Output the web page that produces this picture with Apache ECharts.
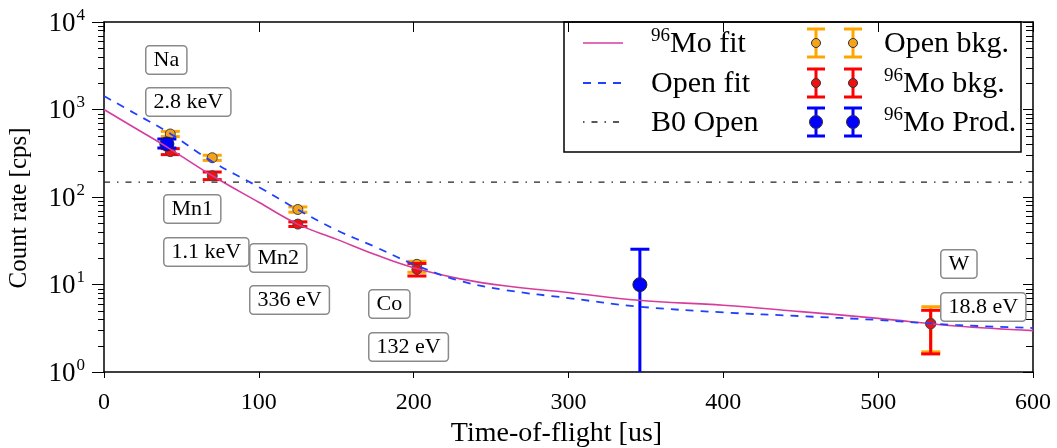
<!DOCTYPE html>
<html><head><meta charset="utf-8">
<script src="https://cdn.jsdelivr.net/npm/echarts@6/dist/echarts.min.js"></script>
<style>html,body{margin:0;padding:0;background:#fff}#c{width:1057px;height:448px}</style>
</head><body><div id="c"></div>
<script>
// ---- data ----
const fitX      = [0, 20, 42, 70, 100, 125, 150, 175, 200, 230, 260, 300, 345, 400, 450, 500, 550, 600];
const moFitY    = [1000, 615, 360, 175, 87, 49, 33, 22, 15.5, 11.6, 9.6, 8.1, 6.6, 5.8, 4.9, 4.1, 3.35, 2.97];
const openFitY  = [1425, 900, 540, 253, 130, 72, 42, 27, 17, 11, 8.6, 7.0, 5.6, 4.8, 4.35, 3.93, 3.45, 3.18];
const b0OpenY   = 148;

const openBkgX  = [42.8, 69.9, 125.2, 202.1, 534];
const openBkgY  = [525, 281, 72, 17.0, 3.6];
const openBkgLo = [490, 262, 67, 13.8, 1.7];
const openBkgHi = [562, 300, 77, 18.4, 5.57];

const moBkgX    = [42.8, 69.9, 125.2, 202.1, 533.9];
const moBkgY    = [330, 175, 49, 14.9, 3.54];
const moBkgLo   = [305, 158, 46, 12.5, 1.61];
const moBkgHi   = [357, 193, 52, 17.4, 5.07];

const moProdX   = [40.6, 346.1];
const moProdY   = [404, 9.96];
const moProdLo  = [363, 0.3];
const moProdHi  = [460, 25.3];

const yMinorTicks = [2,3,4,5,6,7,8,9,20,30,40,50,60,70,80,90,200,300,400,500,600,700,800,900,2000,3000,4000,5000,6000,7000,8000,9000];

const annotations = [
  ['Na', 145, 45], ['2.8 keV', 145, 87],
  ['Mn1', 163, 194], ['1.1 keV', 163, 237],
  ['Mn2', 249, 243], ['336 eV', 249, 285],
  ['Co', 368, 289], ['132 eV', 368, 332],
  ['W', 940, 249], ['18.8 eV', 940, 292]
];

// ---- chart ----
const FONT = "'Liberation Serif', 'Times New Roman', serif";
const chart = echarts.init(document.getElementById('c'), null, {renderer: 'canvas'});

const zip = (a, b) => a.map((v, i) => [v, b[i]]);
const errData = (x, lo, hi) => x.map((v, i) => [v, lo[i], hi[i]]);

function errorBar(color, capW, lw) {
  return function (params, api) {
    const x = api.value(0);
    const lo = api.coord([x, api.value(1)]);
    const hi = api.coord([x, api.value(2)]);
    const st = {stroke: color, lineWidth: lw};
    return {
      type: 'group',
      children: [
        {type: 'line', shape: {x1: lo[0], y1: lo[1], x2: hi[0], y2: hi[1]}, style: st},
        {type: 'line', shape: {x1: lo[0] - capW / 2, y1: lo[1], x2: lo[0] + capW / 2, y2: lo[1]}, style: st},
        {type: 'line', shape: {x1: hi[0] - capW / 2, y1: hi[1], x2: hi[0] + capW / 2, y2: hi[1]}, style: st}
      ]
    };
  };
}

function minorTicks(params, api) {
  const cs = params.coordSys;
  const p = api.coord([0, api.value(0)]);
  const y = Math.round(p[1]) + 0.5;
  const st = {stroke: '#000', lineWidth: 1};
  return {
    type: 'group',
    children: [
      {type: 'line', shape: {x1: cs.x - 6, y1: y, x2: cs.x, y2: y}, style: st},
      {type: 'line', shape: {x1: cs.x + cs.width - 7, y1: y, x2: cs.x + cs.width, y2: y}, style: st}
    ]
  };
}

const option = {
  animation: false,
  backgroundColor: '#fff',
  grid: {left: 104, right: 24, top: 22, bottom: 76, containLabel: false, outerBoundsMode: 'none'},
  xAxis: [
    {
      type: 'value', min: 0, max: 600, interval: 100, position: 'bottom',
      axisLine: {show: true, onZero: false, lineStyle: {color: '#000', width: 1.5}},
      axisTick: {show: true, inside: false, length: 6, lineStyle: {color: '#000', width: 1}},
      axisLabel: {color: '#000', fontFamily: FONT, fontSize: 24, margin: 19},
      splitLine: {show: false},
      name: 'Time-of-flight [us]', nameLocation: 'middle', nameGap: 41,
      nameTextStyle: {color: '#000', fontFamily: FONT, fontSize: 28, padding: [0, 24, 0, 0]}
    },
    {
      type: 'value', min: 0, max: 600, interval: 100, position: 'top',
      axisLine: {show: true, onZero: false, lineStyle: {color: '#000', width: 1.5}},
      axisTick: {show: true, inside: true, length: 10, lineStyle: {color: '#000', width: 1}},
      axisLabel: {show: false}, splitLine: {show: false}
    }
  ],
  yAxis: [
    {
      type: 'log', logBase: 10, min: 1, max: 10000, position: 'left',
      axisLine: {show: true, onZero: false, lineStyle: {color: '#000', width: 1.5}},
      axisTick: {show: true, inside: false, length: 12, lineStyle: {color: '#000', width: 1}},
      minorTick: {show: false},
      axisLabel: {
        color: '#000', fontFamily: FONT, margin: 19,
        formatter: v => '{b|10}{s|' + Math.round(Math.log10(v)) + '}',
        rich: {
          b: {fontFamily: FONT, fontSize: 27, color: '#000', verticalAlign: 'bottom', lineHeight: 30},
          s: {fontFamily: FONT, fontSize: 17, color: '#000', verticalAlign: 'top', lineHeight: 30, padding: [0, 0, 0, 1]}
        }
      },
      splitLine: {show: false},
      name: 'Count rate [cps]', nameLocation: 'middle', nameGap: 72, nameRotate: 90,
      nameTextStyle: {color: '#000', fontFamily: FONT, fontSize: 25, padding: [0, 22, 0, 0]}
    },
    {
      type: 'log', logBase: 10, min: 1, max: 10000, position: 'right',
      axisLine: {show: true, onZero: false, lineStyle: {color: '#000', width: 1.5}},
      axisTick: {show: true, inside: true, length: 10, lineStyle: {color: '#000', width: 1}},
      axisLabel: {show: false}, splitLine: {show: false}, minorTick: {show: false}
    }
  ],
  series: [
    {
      type: 'custom', name: 'minorTicks', renderItem: minorTicks, silent: true,
      data: yMinorTicks.map(v => [v]), encode: {y: 0}, clip: false, z: 1
    },
    {
      type: 'custom', name: 'Open bkg. err', renderItem: errorBar('#FFA500', 19, 3),
      data: errData(openBkgX, openBkgLo, openBkgHi), encode: {x: 0, y: [1, 2]}, clip: true, z: 2
    },
    {
      type: 'scatter', name: 'Open bkg.', data: zip(openBkgX, openBkgY), symbol: 'circle', symbolSize: 10,
      itemStyle: {color: '#F5A21B', borderColor: '#444', borderWidth: 1, opacity: 1}, z: 3
    },
    {
      type: 'custom', name: 'Mo bkg. err', renderItem: errorBar('#FF0000', 19, 3),
      data: errData(moBkgX, moBkgLo, moBkgHi), encode: {x: 0, y: [1, 2]}, clip: true, z: 4
    },
    {
      type: 'scatter', name: 'Mo bkg.', data: zip(moBkgX, moBkgY), symbol: 'circle', symbolSize: 10,
      itemStyle: {color: '#EE1111', borderColor: '#444', borderWidth: 1, opacity: 1}, z: 5
    },
    {
      type: 'custom', name: 'Mo Prod. err', renderItem: errorBar('#0000FF', 19, 3),
      data: errData(moProdX, moProdLo, moProdHi), encode: {x: 0, y: [1, 2]}, clip: true, z: 6
    },
    {
      type: 'scatter', name: 'Mo Prod.', data: zip(moProdX, moProdY), symbol: 'circle', symbolSize: 14,
      itemStyle: {color: '#0000FF', borderColor: '#222', borderWidth: 1, opacity: 1}, z: 7
    },
    {
      type: 'line', name: 'Mo fit', data: zip(fitX, moFitY), smooth: 0.4, showSymbol: false,
      lineStyle: {color: '#D63C9E', width: 1.6}, z: 8, silent: true
    },
    {
      type: 'line', name: 'Open fit', data: zip(fitX, openFitY), smooth: 0.4, showSymbol: false,
      lineStyle: {color: '#2040FF', width: 1.8, type: [8, 7]}, z: 8, silent: true
    },
    {
      type: 'line', name: 'B0 Open', data: [[0, b0OpenY], [600, b0OpenY]], showSymbol: false,
      lineStyle: {color: '#222', width: 1.3, type: [6, 7, 1.5, 7]}, z: 8, silent: true
    }
  ],
  graphic: []
};

// annotation boxes
annotations.forEach(a => {
  option.graphic.push({
    type: 'text', left: a[1], top: a[2], z: 20,
    style: {
      text: a[0], font: '22px ' + FONT, fill: '#000',
      backgroundColor: '#fff', borderColor: '#8a8a8a', borderWidth: 1.5, borderRadius: 3,
      padding: [2, 7, 1, 7], lineHeight: 24
    }
  });
});

// legend
const LX = 564, LY = 22, LW = 457, LH = 130;
const rows = [43, 83, 122];
const leg = [];
leg.push({type: 'rect', shape: {x: LX, y: LY, width: LW, height: LH}, style: {fill: '#fff', stroke: '#000', lineWidth: 1.5}});
leg.push({type: 'line', shape: {x1: 583, y1: rows[0], x2: 623, y2: rows[0]}, style: {stroke: '#D63C9E', lineWidth: 1.6}});
leg.push({type: 'line', shape: {x1: 583, y1: rows[1], x2: 623, y2: rows[1]}, style: {stroke: '#2040FF', lineWidth: 1.8, lineDash: [8, 7]}});
leg.push({type: 'line', shape: {x1: 583, y1: rows[2], x2: 623, y2: rows[2]}, style: {stroke: '#222', lineWidth: 1.3, lineDash: [1.5, 7, 6, 7]}});
const richLeg = {
  s: {fontFamily: FONT, fontSize: 19, color: '#000', verticalAlign: 'top', lineHeight: 33},
  n: {fontFamily: FONT, fontSize: 30, color: '#000', verticalAlign: 'bottom', lineHeight: 33}
};
function legText(x, y, txt) {
  return {type: 'text', x: x, y: y, style: {text: txt, rich: richLeg, verticalAlign: 'middle', align: 'left'}};
}
leg.push(legText(651, rows[0], '{s|96}{n|Mo fit}'));
leg.push(legText(651, rows[1], '{n|Open fit}'));
leg.push(legText(651, rows[2], '{n|B0 Open}'));
leg.push(legText(884, rows[0], '{n|Open bkg.}'));
leg.push(legText(884, rows[1], '{s|96}{n|Mo bkg.}'));
leg.push(legText(884, rows[2], '{s|96}{n|Mo Prod.}'));
const legSym = [['#FFA500', '#F5A21B', 9], ['#FF0000', '#EE1111', 9], ['#0000FF', '#0000FF', 13]];
legSym.forEach((s, i) => {
  [816, 853].forEach(cx => {
    const cy = rows[i];
    const st = {stroke: s[0], lineWidth: 3};
    leg.push({type: 'line', shape: {x1: cx, y1: cy - 14, x2: cx, y2: cy + 14}, style: st});
    leg.push({type: 'line', shape: {x1: cx - 9, y1: cy - 14, x2: cx + 9, y2: cy - 14}, style: st});
    leg.push({type: 'line', shape: {x1: cx - 9, y1: cy + 14, x2: cx + 9, y2: cy + 14}, style: st});
    leg.push({type: 'circle', shape: {cx: cx, cy: cy, r: s[2] / 2}, style: {fill: s[1], stroke: '#333', lineWidth: 1}});
  });
});
option.graphic.push({type: 'group', z: 30, children: leg});

chart.setOption(option);
</script>
</body></html>
